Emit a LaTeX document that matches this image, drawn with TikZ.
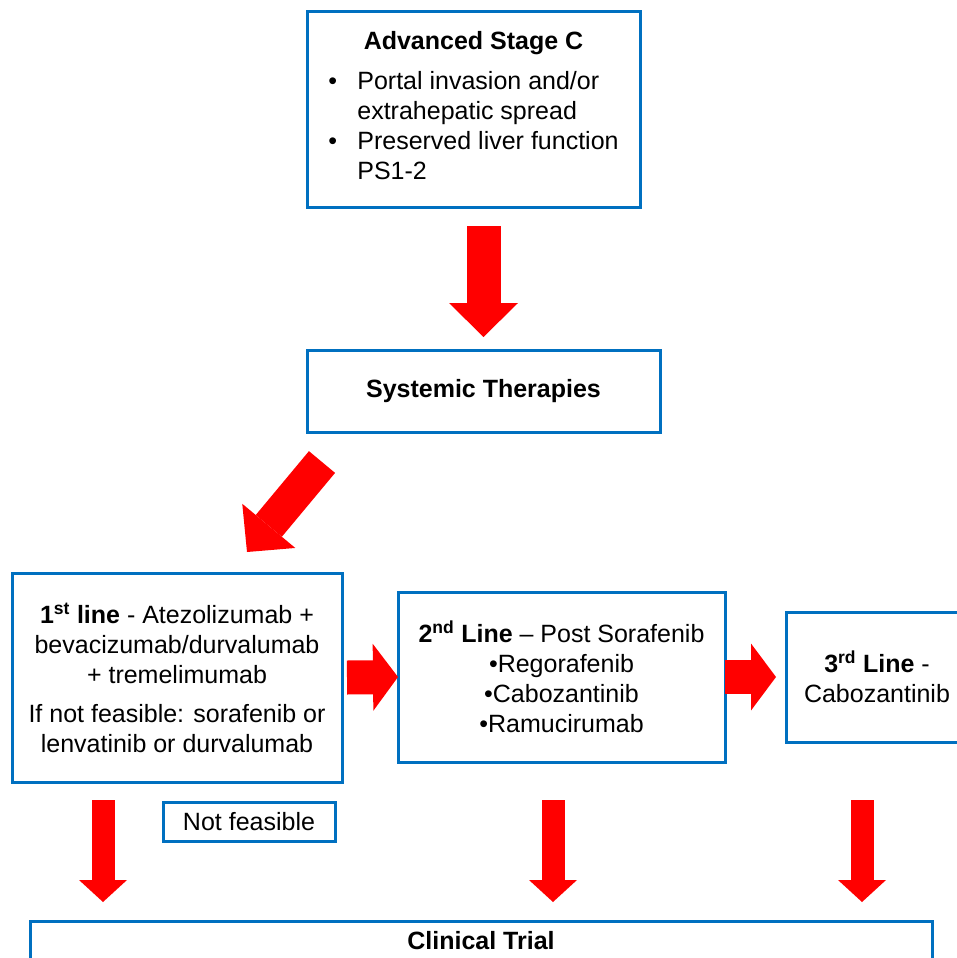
\documentclass[tikz,border=0pt]{standalone}
\usepackage{fontspec}
\setmainfont{Liberation Sans}
\usetikzlibrary{arrows.meta,calc,positioning}
\definecolor{boxblue}{RGB}{0,112,192}
\definecolor{arrowred}{RGB}{255,0,0}
\tikzset{
    box/.style={draw=boxblue, line width=3pt, inner sep=0pt, outer sep=0pt, align=center, font=\fontsize{25}{30}\selectfont},
    bigarrow/.style={draw=arrowred, line width=34pt, -{Triangle[length=34pt,width=69pt,line width=0pt]}},
    sidearrow/.style={draw=arrowred, line width=34pt, -{Triangle[length=25pt,width=67pt,line width=0pt]}},
    thinarrow/.style={draw=arrowred, line width=23pt, -{Triangle[length=22pt,width=48pt,line width=0pt]}},
}

\begin{document}
\begin{tikzpicture}[x=1pt,y=-1pt]
    \useasboundingbox (0,0) rectangle (956,958);

    \node[box, minimum width=333pt, minimum height=195pt] (adv) at (473.5,109.5)
        {\textbf{Advanced Stage C}\\[10pt]
         \begin{tabular}[t]{@{}p{29pt}@{}l@{}}
         \textbullet & Portal invasion and/or\\
                     & extrahepatic spread\\
         \textbullet & Preserved liver function\\
                     & PS1-2
         \end{tabular}};
    \node[box, minimum width=353pt, minimum height=82pt] (sys) at (483.5,391) {\textbf{Systemic Therapies}};

    \node[box, minimum width=330pt, minimum height=209pt] (first) at (177,677.5)
        {\textbf{1\textsuperscript{st} line} - Atezolizumab +\\
         bevacizumab/durvalumab\\
         + tremelimumab\\[9pt]
         If not feasible: sorafenib or\\
         lenvatinib or durvalumab};
    \node[box, minimum width=327pt, minimum height=170pt] (second) at (561.5,677)
        {\textbf{2\textsuperscript{nd} Line} – Post Sorafenib\\
         \textbullet Regorafenib\\
         \textbullet Cabozantinib\\
         \textbullet Ramucirumab};
    \node[box, minimum width=182pt, minimum height=130pt] (third) at (877,677)
        {\textbf{3\textsuperscript{rd} Line} -\\ Cabozantinib};

    \node[box, minimum width=172pt, minimum height=39pt] (nf) at (249,821.5) {Not feasible};
    \node[box, minimum width=902pt, minimum height=40pt] (trial) at (481,941) {\textbf{Clinical Trial}};

    \coordinate (d1) at (103,800);
    \coordinate (d2) at (553,800);
    \coordinate (d3) at (862,800);

    \draw[bigarrow] ($(sys.north |- adv.south)+(0,19)$) -- ($(sys.north)+(0,-13)$);
    \draw[bigarrow] ($(sys.south west)+(15,30)$) -- ($(first.north)+(70,-21)$);
    \draw[sidearrow] ($(first.east)+(5,0)$) -- (second.west);
    \draw[sidearrow] (second.east) -- ($(third.west)+(-10,0)$);
    \draw[thinarrow] (d1) -- ($(d1 |- trial.north)+(0,-19)$);
    \draw[thinarrow] (d2) -- ($(d2 |- trial.north)+(0,-19)$);
    \draw[thinarrow] (d3) -- ($(d3 |- trial.north)+(0,-19)$);
\end{tikzpicture}
\end{document}
